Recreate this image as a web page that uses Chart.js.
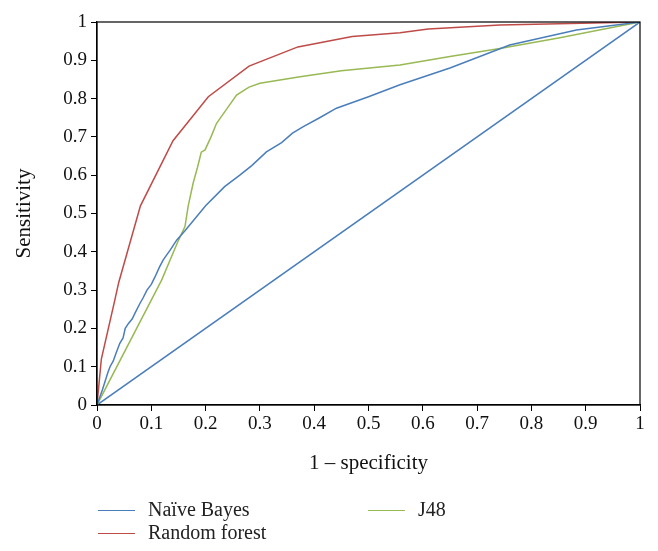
<!DOCTYPE html>
<html>
<head>
<meta charset="utf-8">
<script src="https://cdn.jsdelivr.net/npm/chart.js@4/dist/chart.umd.min.js"></script>
<style>
  body { margin: 0; background: #fff; }
  #wrap { position: relative; width: 658px; height: 551px; }
  #rocChart { position: absolute; left: 0; top: 0; }
  .leg { position: absolute; font-family: 'Liberation Serif', 'DejaVu Serif', serif; font-size: 20px; color: #222; white-space: nowrap; }
  .leg span.sw { display: inline-block; width: 37px; height: 0; border-top: 1.5px solid; vertical-align: middle; margin-right: 13px; position: relative; top: -1px; }
</style>
</head>
<body>
<div id="wrap">
  <canvas id="rocChart" width="658" height="551"></canvas>
  <div id="legend"></div>
</div>
<script>
// 1 - specificity / sensitivity
const nbX = [0, 0.01, 0.02, 0.024, 0.03, 0.035, 0.042, 0.048, 0.052, 0.058, 0.065, 0.07, 0.079, 0.085, 0.092, 0.1, 0.107, 0.115, 0.122, 0.135, 0.147, 0.162, 0.2, 0.235, 0.263, 0.285, 0.312, 0.34, 0.36, 0.38, 0.41, 0.441, 0.5, 0.558, 0.65, 0.76, 0.883, 1];
const nbY = [0, 0.04, 0.085, 0.1, 0.115, 0.135, 0.161, 0.175, 0.2, 0.213, 0.225, 0.24, 0.265, 0.28, 0.3, 0.315, 0.335, 0.36, 0.379, 0.405, 0.431, 0.455, 0.52, 0.57, 0.6, 0.625, 0.661, 0.685, 0.71, 0.727, 0.75, 0.775, 0.805, 0.836, 0.88, 0.94, 0.979, 1];

const rfX = [0, 0.008, 0.033, 0.04, 0.08, 0.14, 0.205, 0.28, 0.37, 0.47, 0.558, 0.61, 0.742, 1];
const rfY = [0, 0.12, 0.275, 0.32, 0.52, 0.69, 0.805, 0.885, 0.935, 0.962, 0.972, 0.982, 0.992, 1];

const j48X = [0, 0.119, 0.15, 0.155, 0.162, 0.168, 0.177, 0.185, 0.192, 0.199, 0.21, 0.22, 0.227, 0.24, 0.257, 0.28, 0.3, 0.374, 0.45, 0.558, 0.65, 0.742, 0.85, 1];
const j48Y = [0, 0.326, 0.43, 0.445, 0.466, 0.52, 0.579, 0.62, 0.66, 0.666, 0.7, 0.735, 0.749, 0.775, 0.809, 0.83, 0.84, 0.857, 0.873, 0.888, 0.91, 0.931, 0.958, 1];

const diagX = [0, 1];
const diagY = [0, 1];

const toPts = (xs, ys) => xs.map((x, i) => ({ x: x, y: ys[i] }));

const BLUE = '#4a7ebb', RED = '#be4b48', GREEN = '#98b954';
const serif = "'Liberation Serif', 'DejaVu Serif', serif";

const datasets = [
    { label: 'Naïve Bayes', data: toPts(nbX, nbY), borderColor: BLUE },
    { label: 'Random forest', data: toPts(rfX, rfY), borderColor: RED },
    { label: 'J48', data: toPts(j48X, j48Y), borderColor: GREEN },
    { label: '', data: toPts(diagX, diagY), borderColor: BLUE }
].map(d => Object.assign(d, { showLine: true, pointRadius: 0, borderWidth: 1.5, tension: 0, fill: false }));

// box around the plot (top + right edges)
const frame = {
    id: 'frame',
    afterDraw(chart) {
        const a = chart.chartArea, c = chart.ctx;
        c.save();
        c.strokeStyle = '#000';
        c.lineWidth = 1.2;
        c.strokeRect(a.left, a.top, a.right - a.left, a.bottom - a.top);
        c.restore();
    }
};

const tickStyle = { color: '#111', font: { size: 19, family: serif } };

new Chart(document.getElementById('rocChart'), {
    type: 'scatter',
    data: { datasets },
    plugins: [frame],
    options: {
        responsive: false,
        animation: false,
        layout: { padding: { left: 0, right: 18, top: 22, bottom: 71 } },
        plugins: { legend: { display: false }, tooltip: { enabled: false } },
        scales: {
            x: {
                min: 0, max: 1,
                ticks: Object.assign({ stepSize: 0.1, padding: 2, callback: v => +v.toFixed(1) }, tickStyle),
                grid: { drawOnChartArea: false, drawTicks: true, tickLength: 6, color: '#000' },
                border: { color: '#000', width: 1.2 },
                title: { display: true, text: '1 – specificity', color: '#111', font: { size: 21, family: serif }, padding: { top: 10 } },
                afterFit: s => { s.height = 75; }
            },
            y: {
                min: 0, max: 1,
                ticks: Object.assign({ stepSize: 0.1, padding: 4, callback: v => +v.toFixed(1) }, tickStyle),
                grid: { drawOnChartArea: false, drawTicks: true, tickLength: 6, color: '#000' },
                border: { color: '#000', width: 1.2 },
                title: { display: true, text: 'Sensitivity', color: '#111', font: { size: 21, family: serif }, padding: { top: 12, bottom: 4 } },
                afterFit: s => { s.width = 97; }
            }
        }
    }
});

// legend below the chart, two columns like the original
const legendPos = [[98, 498], [98, 521], [368, 498]];
const legend = document.getElementById('legend');
datasets.slice(0, 3).forEach((d, i) => {
    const el = document.createElement('div');
    el.className = 'leg';
    el.style.left = legendPos[i][0] + 'px';
    el.style.top = legendPos[i][1] + 'px';
    el.innerHTML = '<span class="sw" style="border-color:' + d.borderColor + '"></span>' + d.label;
    legend.appendChild(el);
});
</script>
</body>
</html>
